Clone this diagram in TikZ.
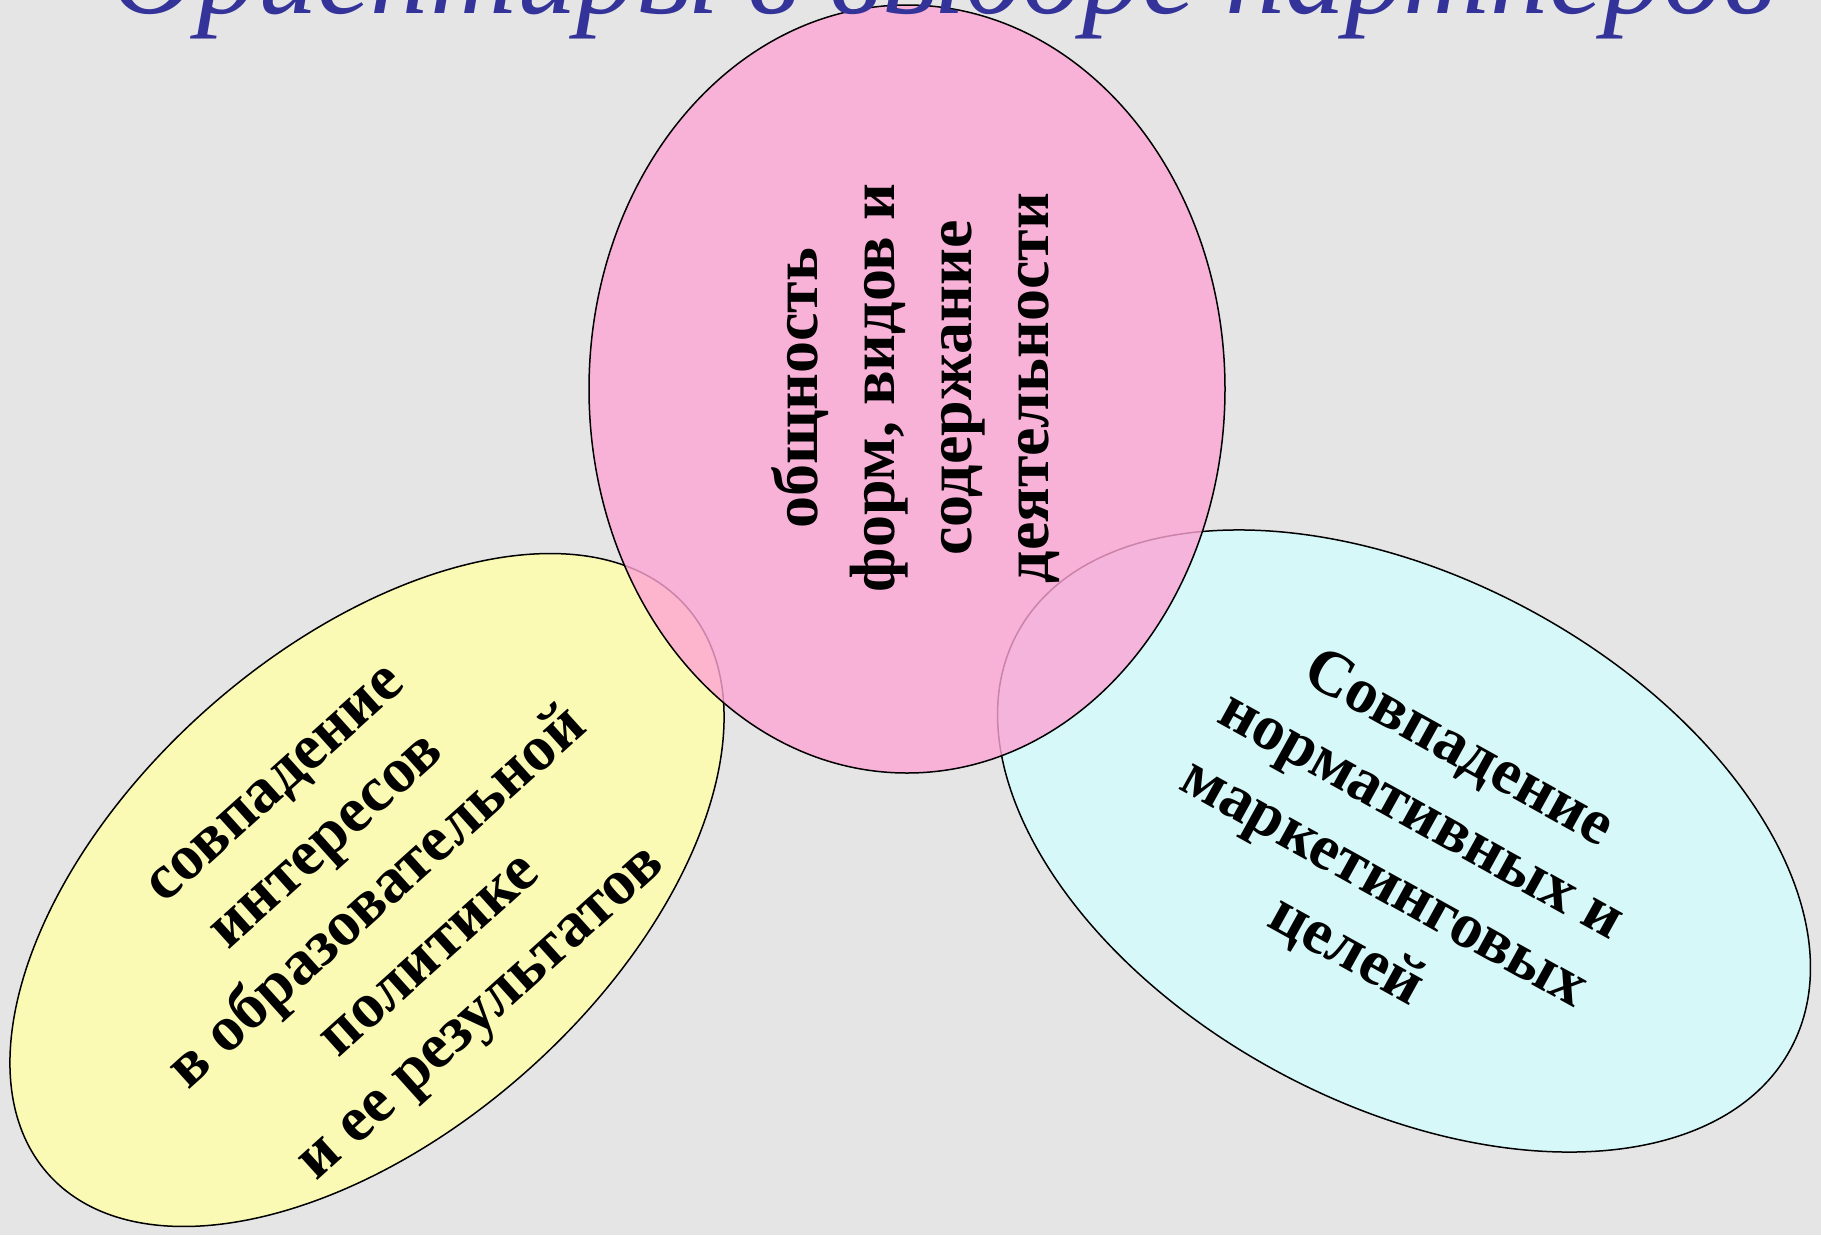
\documentclass[tikz,border=0pt]{standalone}
\usepackage{fontspec}
\setmainfont{Liberation Serif}
\usepackage{tikz}
\usetikzlibrary{shapes.geometric}

\definecolor{bggray}{RGB}{229,229,229}
\definecolor{titleblue}{RGB}{51,51,153}
\definecolor{pinkfill}{RGB}{253,164,212}
\definecolor{yellowfill}{RGB}{250,250,180}
\definecolor{cyanfill}{RGB}{214,248,248}

\begin{document}
\begin{tikzpicture}[
  x=1pt, y=-1pt,
  blob/.style={ellipse, draw=black, line width=1.5pt, inner sep=0pt},
  blobtext/.style={font=\fontsize{64}{77}\selectfont\bfseries, align=center, text=black, inner sep=0pt},
]

% --- Background ---
\clip (0,0) rectangle (1821,1235);
\fill[bggray] (0,0) rectangle (1821,1235);

% --- Ellipses ---
\node[blob, fill=yellowfill, minimum width=854pt, minimum height=483pt, rotate=41.7] (yel) at (367,890) {};
\node[blob, fill=cyanfill, minimum width=878pt, minimum height=526pt, rotate=-28.2] (cyn) at (1404,841) {};
\node[blob, fill=pinkfill, fill opacity=0.8, minimum width=636pt, minimum height=768pt] (pnk) at (907,389) {};

% --- Title (cut by the top edge) ---
\node[font=\fontsize{120}{130}\selectfont\itshape, text=titleblue, anchor=base, inner sep=0pt] (title) at (943,13) {Ориентиры в выборе партнеров};

% --- Texts ---
\node[blobtext, rotate=90] (pnktxt) at (916,388) {общность\\форм, видов и\\содержание\\деятельности};
\node[blobtext, rotate=42] (yeltxt) at (383,904) {совпадение\\интересов\\в образовательной\\политике\\и ее результатов};
\node[blobtext, rotate=-29] (cyntxt) at (1402,851) {Совпадение\\нормативных и\\маркетинговых\\целей};

\end{tikzpicture}
\end{document}
